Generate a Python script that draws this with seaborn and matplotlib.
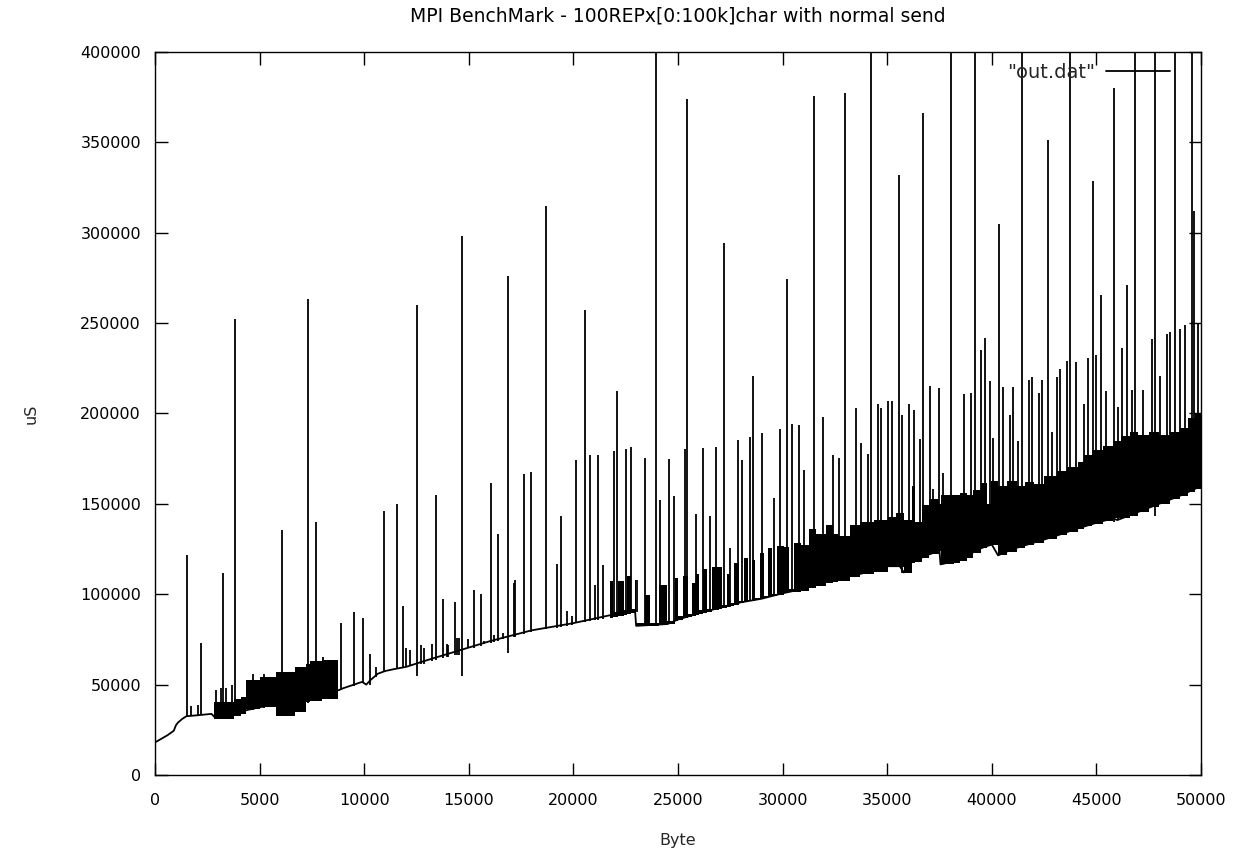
import numpy as np
import pandas as pd
import seaborn as sns
import matplotlib.pyplot as plt

# lower envelope of the timing curve (message size in byte, time in uS)
base_x = [0, 300, 600, 900, 1000, 1100, 1300, 1500, 2000, 2700, 2850,
          8800, 9000, 9900, 10100, 10300, 10650, 11000, 11400, 12000, 13000,
          14000, 15000, 16000, 17000, 18000, 19000, 20000, 21000, 22000,
          22950, 23000, 24500, 25000, 26000, 27000, 28000, 29000, 30000,
          31000, 32000, 32500, 33000, 34000, 35000, 35600, 35800, 36000,
          37000, 37500, 37550, 38500, 39000, 39500, 40000, 40300, 41000,
          42000, 43000, 44000, 45000, 45800, 46000, 47000, 48000, 49000, 50000]
base_y = [18000, 20000, 22000, 24500, 27500, 29000, 31000, 32500, 33000, 33800, 32000,
          47000, 48000, 51500, 50000, 52500, 56000, 57500, 58500, 59800, 63500,
          67000, 70500, 74000, 77000, 80000, 82000, 84000, 86500, 89000,
          90500, 82500, 83500, 86000, 89500, 92500, 95500, 97500, 100500,
          103000, 106500, 107500, 109500, 112000, 115500, 115500, 112000, 117000,
          122000, 124000, 116500, 119000, 122500, 125500, 127500, 121500, 125000,
          128500, 132000, 136000, 139500, 142000, 141000, 145500, 150000, 154500, 159800]

# dense alternating block at small sizes (start of step, low, high)
blk_x = [2800, 3800, 4100, 4340, 5000, 5775, 6700, 7225, 7400, 8000, 8750]
blk_lo = [31000, 32500, 34000, 36500, 37500, 32500, 35000, 40500, 41000, 42000, 44000]
blk_hi = [40500, 42000, 43000, 52800, 54000, 57200, 60000, 61500, 63000, 63500, 63500]

# dense alternating band at large sizes (start of step, low, high)
band_x = [21700, 21750, 21900, 22150, 22400, 22580, 22750, 22950, 23000, 23430,
          23650, 24070, 24470, 24860, 25000, 25260, 25500, 25660, 25850, 26000,
          26200, 26400, 26620, 26950, 27100, 27340, 27500, 27700, 27900, 28150,
          28350, 28550, 28700, 28900, 29100, 29300, 29500, 29730, 30050, 30300,
          30540, 30860, 31250, 31580, 32090, 32400, 32650, 33200, 33700, 34350,
          35050, 35400, 35800, 36200, 36350, 36680, 36980, 37500, 37560, 38200,
          38500, 38800, 39120, 39470, 39760, 39980, 40300, 40720, 41200, 41600,
          42000, 42500, 43100, 43600, 44100, 44400, 44800, 45300, 45800, 46200,
          46600, 47000, 47500, 48000, 48500, 49000, 49400, 49700, 50000]
band_lo = [86500, 87000, 87500, 88000, 88500, 89000, 89500, 90000, 82500, 82500,
           82500, 83000, 83500, 85000, 86000, 87000, 87500, 88000, 88500, 89000,
           89500, 90000, 91000, 92000, 92500, 93000, 93500, 94000, 95000, 95500,
           96000, 96500, 97000, 97500, 98000, 98500, 99000, 99500, 100500, 101000,
           101500, 102000, 103500, 104500, 106000, 107000, 107500, 109500, 111000, 112500,
           115500, 115000, 112000, 117000, 118000, 120000, 122000, 124000, 116500, 117500,
           118500, 120000, 123000, 125500, 126500, 127500, 121500, 123500, 125500, 127000,
           128500, 130500, 132500, 134500, 136000, 137500, 139000, 140500, 142000, 142000,
           143500, 145500, 148000, 150000, 152500, 154500, 156500, 158000, 159800]
band_hi = [86500, 107500, 90000, 107500, 91000, 110000, 92000, 108000, 84000, 99700,
           84000, 104900, 85000, 108700, 88000, 110000, 89000, 106000, 111300, 91000,
           113900, 92000, 115200, 115200, 94000, 111300, 95000, 117000, 96000, 120300,
           97000, 119000, 98000, 122900, 99000, 125500, 100000, 126800, 126000, 103000,
           128600, 127000, 136000, 133200, 138400, 133200, 132000, 138400, 139700, 141000,
           142800, 144800, 141000, 160000, 140000, 149200, 152500, 150000, 155000, 155000,
           156000, 155000, 157700, 161600, 150000, 162900, 160000, 162900, 160000, 162000,
           161000, 165500, 168000, 170600, 173000, 177000, 179600, 182200, 184800, 187300,
           189900, 188000, 190000, 188000, 190000, 192000, 197700, 200000, 193000]

# isolated peaks: position, foot and top (410000 = beyond the axis top)
spike_x = [1550, 1720, 2040, 2200, 2920, 3170, 3270, 3380, 3700, 3844, 4700, 5230,
           6060, 7305, 7700, 8040, 8884, 9522, 9937, 10290, 10560, 10957, 11547,
           11866, 12020, 12200, 12520, 12700, 12850, 13250, 13445, 13780, 13950,
           14030, 14340, 14450, 14550, 14673, 14980, 15231, 15582, 15750, 16060,
           16200, 16380, 16650, 16890, 17150, 17230, 17656, 17975, 18711, 19200,
           19426, 19700, 19950, 20128, 20542, 20797, 21037, 21196, 21435, 21930,
           22105, 22504, 22760, 23030, 23430, 23940, 24147, 24577, 24833, 25343,
           25455, 25870, 26173, 26540, 26810, 27210, 27464, 27863, 28040, 28454,
           28600, 29028, 29600, 29857, 30223, 30463, 30781, 31020, 31500, 31930,
           32408, 32695, 33000, 33493, 33732, 34083, 34210, 34560, 34720, 35040,
           35230, 35550, 35726, 36045, 36284, 36570, 36730, 37034, 37210, 37500,
           37690, 38040, 38660, 39000, 39190, 39474, 39666, 39920, 40048, 40367,
           40558, 40877, 41037, 41276, 41467, 41786, 41946, 42280, 42424, 42696,
           42871, 43110, 43270, 43590, 43750, 44035, 44390, 44594, 44817, 44992,
           45232, 45470, 45822, 46030, 46236, 46460, 46700, 46860, 47225, 47640,
           47780, 48055, 48374, 48532, 48772, 48980, 49220, 49570, 49680, 49850]
spike_lo = [32500, 32800, 33000, 33000, 31000, 31000, 31000, 31500, 32000, 32500, 36000, 37000,
            33000, 40000, 41000, 42000, 47000, 49000, 51000, 50000, 54000, 57000, 58500,
            59500, 60000, 60500, 54600, 61500, 61500, 63000, 63500, 64500, 65000,
            65500, 66500, 66500, 66500, 54600, 70000, 70500, 71500, 72500, 73000,
            73500, 74000, 75000, 67500, 76500, 76500, 78000, 79000, 80500, 81500,
            82000, 82500, 83000, 84000, 84500, 85000, 85500, 86000, 86500, 87500,
            88000, 89000, 89500, 90000, 82500, 82500, 83000, 83500, 85000, 87000,
            87500, 88500, 89500, 90500, 91500, 92500, 93000, 94500, 95500, 96500,
            96500, 97500, 99000, 100000, 101000, 101500, 102000, 103000, 104500, 106000,
            107000, 107500, 109500, 110500, 111000, 112000, 112000, 113500, 114000, 115500,
            115500, 115000, 112000, 117000, 118000, 120000, 120500, 122000, 122500, 124000,
            116500, 117500, 119000, 122500, 123500, 125500, 126000, 127000, 127500, 121500,
            122500, 124500, 125000, 126000, 126500, 127500, 128000, 129500, 130000, 131000,
            131500, 132500, 133000, 134500, 135000, 136000, 137500, 138000, 139000, 139500,
            140500, 141500, 140000, 141000, 142000, 143000, 144000, 144500, 146500, 148500,
            143000, 150500, 152000, 152500, 153500, 154500, 155500, 157500, 158000, 159000]
spike_hi = [121600, 37900, 38600, 72900, 46900, 48000, 112000, 48000, 49500, 252300, 56000, 56000,
            135800, 263400, 139700, 65000, 84300, 90000, 86800, 67000, 59800, 146100, 150000,
            93300, 70000, 69000, 260000, 72000, 70000, 72700, 155100, 97200, 72700,
            72000, 95900, 75500, 76000, 298200, 75200, 102300, 100200, 74000, 161600,
            77500, 133200, 78500, 276300, 106000, 108000, 166700, 167500, 315000, 116500,
            143500, 90700, 88000, 174000, 257000, 177000, 104900, 177000, 116000, 179100,
            212300, 180100, 181700, 108000, 175200, 410000, 152000, 175000, 154400, 180100,
            373700, 144600, 180900, 143500, 181700, 294300, 125500, 185500, 174000, 186800,
            220800, 189400, 153300, 191200, 274200, 194300, 193500, 168500, 375500, 198200,
            177000, 175200, 377300, 202800, 183500, 177800, 410000, 205400, 202800, 206700,
            206700, 331700, 199000, 205400, 202000, 186000, 366000, 215200, 158200, 213900,
            167200, 410000, 210600, 211400, 410000, 235000, 242000, 217800, 186600, 304600,
            214400, 199000, 214400, 184800, 410000, 218300, 220100, 211400, 218300, 351500,
            189900, 220100, 224700, 229100, 410000, 228600, 205400, 230700, 328600, 232400,
            265400, 212300, 379900, 203300, 236300, 271100, 213100, 410000, 213100, 241000,
            410000, 220800, 244000, 245300, 410000, 246600, 249200, 410000, 311800, 250000]

x_ticks = [0, 5000, 10000, 15000, 20000, 25000, 30000, 35000, 40000, 45000, 50000]
y_ticks = [0, 50000, 100000, 150000, 200000, 250000, 300000, 350000, 400000]

sns.set_theme(style="ticks")
plt.rcParams["font.family"] = ["DejaVu Sans"]

fig = plt.figure(figsize=(12.51, 8.49), dpi=100)
ax = fig.add_axes([0.1239, 0.0872, 0.8361, 0.8516])

lw = 1.3
sns.lineplot(x=base_x, y=base_y, ax=ax, color="black", linewidth=lw,
             label='"out.dat"', estimator=None, sort=False)
ax.fill_between(blk_x, blk_lo, blk_hi, step="post", color="black", linewidth=0)
ax.fill_between(band_x, band_lo, band_hi, step="post", color="black", linewidth=0)
ax.vlines(spike_x, spike_lo, spike_hi, color="black", linewidth=lw)

ax.set_xlim(0, 50000)
ax.set_ylim(0, 400000)
ax.set_xticks(x_ticks)
ax.set_yticks(y_ticks)
ax.set_xticklabels([str(v) for v in x_ticks])
ax.set_yticklabels([str(v) for v in y_ticks])
ax.tick_params(axis="x", pad=13)
ax.tick_params(axis="y", pad=10)
ax.tick_params(direction="in", length=9, width=1, top=True, right=True,
               labelsize=11.5, colors="black")
for s in ax.spines.values():
    s.set_color("black")
    s.set_linewidth(1)

ax.set_xlabel("Byte", fontsize=11.5, labelpad=18)
ax.set_ylabel("uS", fontsize=11.5, labelpad=30)
ax.set_title("MPI BenchMark - 100REPx[0:100k]char with normal send",
             fontsize=13.5, pad=22, color="black")

ax.legend(loc="upper right", frameon=False, markerfirst=False, fontsize=14,
          handlelength=3.3, handletextpad=0.55, borderaxespad=0.0,
          bbox_to_anchor=(0.978, 0.996))

fig.savefig("out.png", dpi=100)
